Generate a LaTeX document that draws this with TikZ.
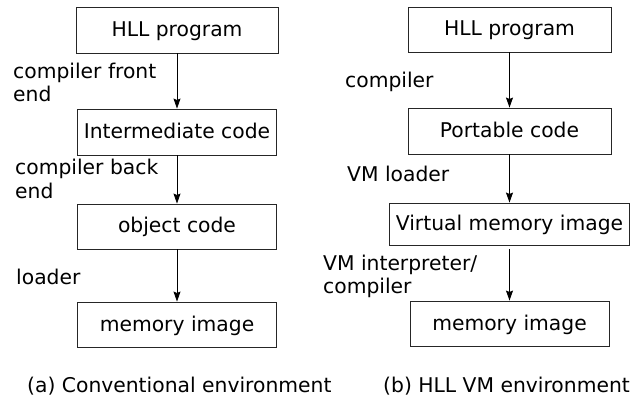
\documentclass[tikz,border=0pt]{standalone}
\usepackage{fontspec}
\setmainfont{DejaVu Sans}
\usetikzlibrary{arrows.meta}
\begin{document}
\begin{tikzpicture}[x=1pt,y=-1pt,
  every node/.style={font=\fontsize{20.3}{23.5}\selectfont, inner sep=0pt},
  box/.style={draw=black!85, line width=0.9pt, text height=15pt, text depth=2pt, minimum height=46pt},
  lbl/.style={anchor=base west, align=left},
  arr/.style={draw=black, line width=0.8pt, -{Stealth[length=10pt,width=7pt,inset=1.5pt]}}]
\useasboundingbox (0,0) rectangle (632,398);
% left column
\node[box, minimum width=202pt] (l1) at (177,30) {HLL program};
\node[box, minimum width=199pt] (l2) at (177,132) {Intermediate code};
\node[box, minimum width=199pt, minimum height=45pt] (l3) at (177,226.5) {object code};
\node[box, minimum width=199pt, minimum height=45pt] (l4) at (177,324.5) {memory image};
\draw[arr] (l1.south) -- (l2.north);
\draw[arr] (l2.south) -- (l3.north);
\draw[arr] (l3.south) -- (l4.north);
\node[lbl] (la) at (13,102) {compiler front\\end};
\node[lbl] (lb) at (15,198.5) {compiler back\\end};
\node[lbl] (lc) at (16,284) {loader};
\node[anchor=base west] (capa) at (27,392) {(a) Conventional environment};
% right column
\node[box, minimum width=203pt, minimum height=45pt] (r1) at (509.5,29.5) {HLL program};
\node[box, minimum width=203pt] (r2) at (509.5,131) {Portable code};
\node[box, minimum width=240pt, minimum height=42pt] (r3) at (509.5,224) {Virtual memory image};
\node[box, minimum width=199pt, minimum height=45pt] (r4) at (509.5,323.5) {memory image};
\draw[arr] (r1.south) -- (r2.north);
\draw[arr] (r2.south) -- (r3.north);
\draw[arr, shorten <=4pt] (r3.south) -- (r4.north);
\node[lbl] (ra) at (345,88) {compiler};
\node[lbl] (rb) at (347,182) {VM loader};
\node[lbl] (rc) at (323,294) {VM interpreter/\\compiler};
\node[anchor=base west] (capb) at (383,392) {(b) HLL VM environment};
\end{tikzpicture}
\end{document}
